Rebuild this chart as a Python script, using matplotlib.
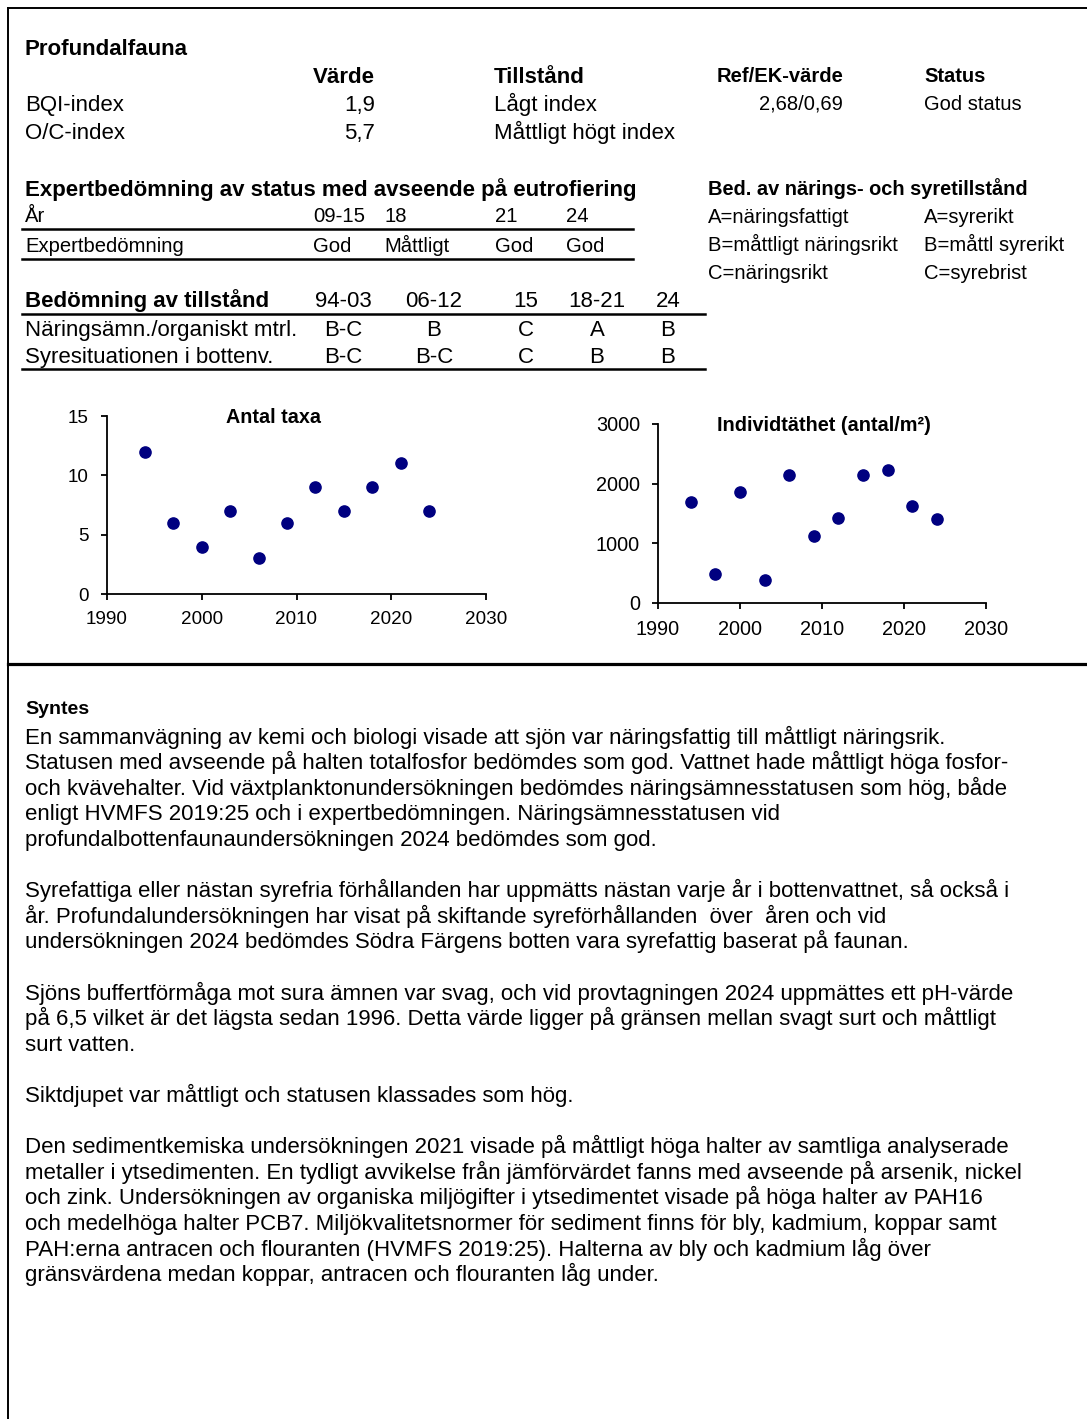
import numpy as np
import matplotlib
matplotlib.use("Agg")
import matplotlib.pyplot as plt

plt.rcParams["font.family"] = ["Liberation Sans", "DejaVu Sans"]

# --- data ---
ar_taxa = [1994, 1997, 2000, 2003, 2006, 2009, 2012, 2015, 2018, 2021, 2024]
antal_taxa = [12, 6, 4, 7, 3, 6, 9, 7, 9, 11, 7]
ar_ind = [1994, 1997, 2000, 2003, 2006, 2009, 2012, 2015, 2018, 2021, 2024]
individtathet = [1700, 490, 1860, 380, 2140, 1130, 1420, 2140, 2230, 1620, 1410]

index_namn = ["BQI-index", "O/C-index"]
index_varde = ["1,9", "5,7"]
index_tillstand = ["Lågt index", "Måttligt högt index"]
index_ref = ["2,68/0,69", ""]
index_status = ["God status", ""]

expert_ar = ["09-15", "18", "21", "24"]
expert_bed = ["God", "Måttligt", "God", "God"]

tillst_perioder = ["94-03", "06-12", "15", "18-21", "24"]
tillst_rader = ["Näringsämn./organiskt mtrl.", "Syresituationen i bottenv."]
tillst_naring = ["B-C", "B", "C", "A", "B"]
tillst_syre = ["B-C", "B-C", "C", "B", "B"]

forklaring_naring = ["A=näringsfattigt", "B=måttligt näringsrikt", "C=näringsrikt"]
forklaring_syre = ["A=syrerikt", "B=måttl syrerikt", "C=syrebrist"]

stycken = [
    ["En sammanvägning av kemi och biologi visade att sjön var näringsfattig till måttligt näringsrik.",
     "Statusen med avseende på halten totalfosfor bedömdes som god. Vattnet hade måttligt höga fosfor-",
     "och kvävehalter. Vid växtplanktonundersökningen bedömdes näringsämnesstatusen som hög, både",
     "enligt HVMFS 2019:25 och i expertbedömningen. Näringsämnesstatusen vid",
     "profundalbottenfaunaundersökningen 2024 bedömdes som god."],
    ["Syrefattiga eller nästan syrefria förhållanden har uppmätts nästan varje år i bottenvattnet, så också i",
     "år. Profundalundersökningen har visat på skiftande syreförhållanden  över  åren och vid",
     "undersökningen 2024 bedömdes Södra Färgens botten vara syrefattig baserat på faunan."],
    ["Sjöns buffertförmåga mot sura ämnen var svag, och vid provtagningen 2024 uppmättes ett pH-värde",
     "på 6,5 vilket är det lägsta sedan 1996. Detta värde ligger på gränsen mellan svagt surt och måttligt",
     "surt vatten."],
    ["Siktdjupet var måttligt och statusen klassades som hög."],
    ["Den sedimentkemiska undersökningen 2021 visade på måttligt höga halter av samtliga analyserade",
     "metaller i ytsedimenten. En tydligt avvikelse från jämförvärdet fanns med avseende på arsenik, nickel",
     "och zink. Undersökningen av organiska miljögifter i ytsedimentet visade på höga halter av PAH16",
     "och medelhöga halter PCB7. Miljökvalitetsnormer för sediment finns för bly, kadmium, koppar samt",
     "PAH:erna antracen och flouranten (HVMFS 2019:25). Halterna av bly och kadmium låg över",
     "gränsvärdena medan koppar, antracen och flouranten låg under."],
]

W, H = 1087, 1419
fig = plt.figure(figsize=(W / 100, H / 100), dpi=100)
bg = fig.add_axes([0, 0, 1, 1])
bg.set_xlim(0, W)
bg.set_ylim(H, 0)
bg.axis("off")

def txt(x, y, s, size=16, bold=False, ha="left"):
    # y = ungefärlig mitt på versalerna, ritas på baslinjen
    yb = y + 0.34 * size * 100 / 72
    bg.text(x, yb, s, fontsize=size, fontweight="bold" if bold else "normal",
            ha=ha, va="baseline", color="black")

# ram
bg.plot([8, W], [8, 8], color="black", lw=1.4)
bg.plot([8, 8], [8, H], color="black", lw=1.4)
bg.plot([8, W], [664, 664], color="black", lw=2.3)

# profundalfauna
txt(25, 47, "Profundalfauna", bold=True)
txt(375, 75, "Värde", bold=True, ha="right")
txt(494, 75, "Tillstånd", bold=True)
txt(843, 75, "Ref/EK-värde", size=14.5, bold=True, ha="right")
txt(924, 75, "Status", size=14.5, bold=True)
for i in range(len(index_namn)):
    y = 103 + i * 28
    txt(25, y, index_namn[i])
    txt(375, y, index_varde[i], ha="right")
    txt(494, y, index_tillstand[i])
    txt(843, y, index_ref[i], size=14.5, ha="right")
    txt(924, y, index_status[i], size=14.5)

# expertbedömning
txt(25, 188, "Expertbedömning av status med avseende på eutrofiering", bold=True)
ex_x = [313, 384, 495, 566]
txt(25, 215, "År", size=14.6)
txt(25, 245, "Expertbedömning", size=14.6)
for j in range(len(expert_ar)):
    txt(ex_x[j], 215, expert_ar[j], size=14.6)
    txt(ex_x[j], 245, expert_bed[j], size=14.6)
bg.plot([22, 633], [229, 229], color="black", lw=1.8)
bg.plot([22, 633], [259, 259], color="black", lw=1.8)

# förklaring
txt(708, 188, "Bed. av närings- och syretillstånd", size=14.4, bold=True)
for i in range(3):
    txt(708, 216 + i * 28, forklaring_naring[i], size=14.6)
    txt(924, 216 + i * 28, forklaring_syre[i], size=14.6)

# bedömning av tillstånd
t_x = [343, 434, 526, 597, 668]
txt(25, 299, "Bedömning av tillstånd", bold=True)
for j in range(len(tillst_perioder)):
    txt(t_x[j], 299, tillst_perioder[j], ha="center")
    txt(t_x[j], 328, tillst_naring[j], ha="center")
    txt(t_x[j], 355, tillst_syre[j], ha="center")
txt(25, 328, tillst_rader[0])
txt(25, 355, tillst_rader[1])
bg.plot([22, 705], [314, 314], color="black", lw=1.8)
bg.plot([22, 705], [369, 369], color="black", lw=1.8)

# diagram
def px_axes(l, r, t, b):
    return fig.add_axes([l / W, 1 - b / H, (r - l) / W, (b - t) / H])

def style(ax, size):
    for s in ["top", "right"]:
        ax.spines[s].set_visible(False)
    for s in ["left", "bottom"]:
        ax.spines[s].set_linewidth(1.3)
    ax.tick_params(direction="out", length=4, width=1.3, labelsize=size)
    ax.tick_params(axis="y", pad=9)
    ax.tick_params(axis="x", pad=8)
    ax.set_xlim(1990, 2030)
    ax.set_xticks([1990, 2000, 2010, 2020, 2030])
    ax.patch.set_alpha(0)

ax1 = px_axes(107, 486, 416, 594)
ax1.scatter(ar_taxa, antal_taxa, s=65, color="#000080", zorder=3, clip_on=False)
ax1.set_ylim(0, 15)
ax1.set_yticks([0, 5, 10, 15])
style(ax1, 13.6)
ax1.text(0.44, 0.99, "Antal taxa", transform=ax1.transAxes, ha="center", va="center",
         fontsize=14.2, fontweight="bold")

ax2 = px_axes(658, 986, 424, 603)
ax2.scatter(ar_ind, individtathet, s=65, color="#000080", zorder=3, clip_on=False)
ax2.set_ylim(0, 3000)
ax2.set_yticks([0, 1000, 2000, 3000])
style(ax2, 14.3)
ax2.text(0.505, 0.99, "Individtäthet (antal/m²)", transform=ax2.transAxes, ha="center",
         va="center", fontsize=14.3, fontweight="bold")

# syntes
txt(25, 707, "Syntes", size=14, bold=True)
y = 736
for st in stycken:
    for rad in st:
        txt(25, y, rad)
        y += 25.6
    y += 25.6

fig.savefig("out.png", dpi=100)
